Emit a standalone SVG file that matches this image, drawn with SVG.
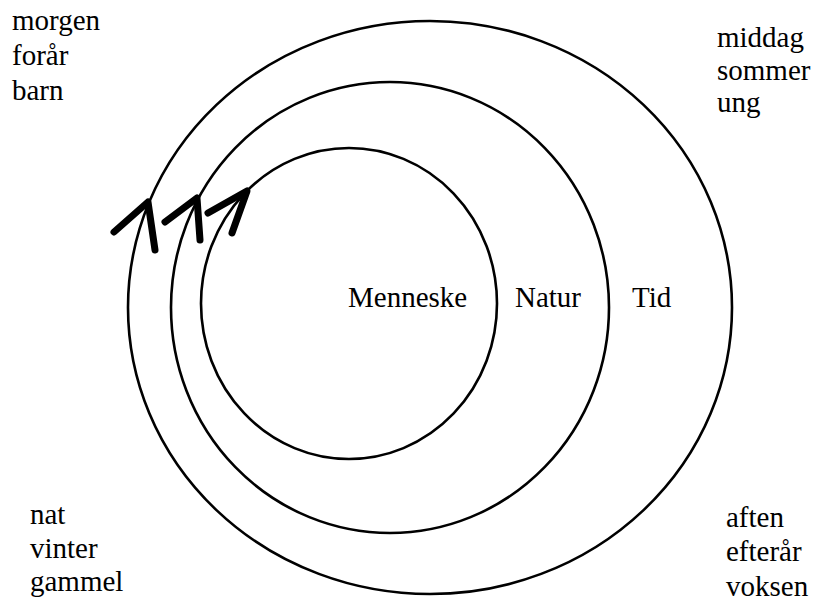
<svg xmlns="http://www.w3.org/2000/svg" width="819" height="601" viewBox="0 0 819 601">
<style>
.ring{fill:none;stroke:#000;stroke-width:2.6}
.arrow{fill:none;stroke:#000;stroke-width:7;stroke-linecap:round;stroke-linejoin:round}
.t{font-family:'Liberation Serif',serif;font-size:29px;fill:#000}
</style>
<rect width="819" height="601" fill="#fff"/>
<g id="tid"><ellipse class="ring" cx="430" cy="307.5" rx="302" ry="286.5"/><text class="t" font-family="Liberation Serif, serif" x="632" y="307">Tid</text></g>
<g id="natur"><ellipse class="ring" cx="390" cy="307.5" rx="219" ry="225.5"/><text class="t" font-family="Liberation Serif, serif" x="515" y="307">Natur</text></g>
<g id="menneske"><ellipse class="ring" cx="349" cy="303.5" rx="148" ry="155.5"/><text class="t" font-family="Liberation Serif, serif" x="348" y="307">Menneske</text></g>
<g id="connectors">
<path class="arrow" d="M114 232 L148 202 L155 250"/>
<path class="arrow" d="M165 222 L197 198 L200 240"/>
<path class="arrow" d="M208 213 L247 191 L232 233"/>
</g>
<g id="morgen" class="t" font-family="Liberation Serif, serif"><text x="12" y="30">morgen</text><text x="12" y="65">forår</text><text x="12" y="100">barn</text></g>
<g id="middag" class="t" font-family="Liberation Serif, serif"><text x="717" y="47">middag</text><text x="717" y="80">sommer</text><text x="717" y="112">ung</text></g>
<g id="nat" class="t" font-family="Liberation Serif, serif"><text x="30" y="524">nat</text><text x="30" y="558">vinter</text><text x="30" y="591">gammel</text></g>
<g id="aften" class="t" font-family="Liberation Serif, serif"><text x="726" y="527">aften</text><text x="726" y="561">efterår</text><text x="726" y="596">voksen</text></g>
</svg>
